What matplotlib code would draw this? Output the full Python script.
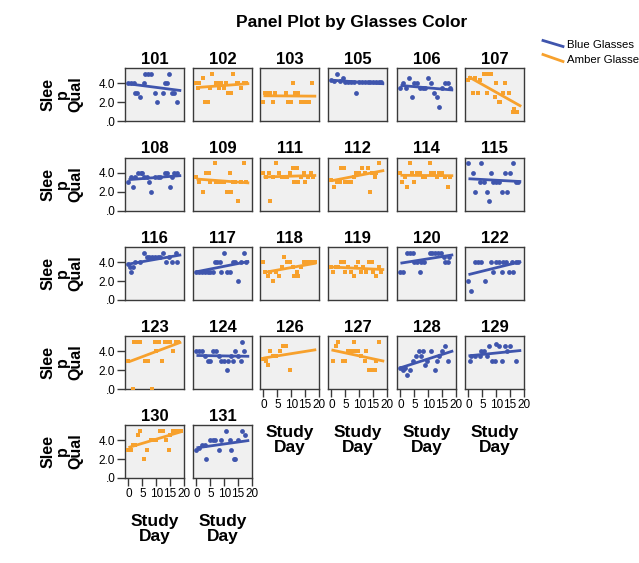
"""Panel plot of sleep quality by study day, one small panel per participant."""
import matplotlib
matplotlib.use("Agg")
import matplotlib.pyplot as plt
from matplotlib.lines import Line2D
import numpy as np

plt.rcParams["font.family"] = ["Liberation Sans", "DejaVu Sans"]

BLUE = "#3f55ad"
AMBER = "#f7a12d"
PANEL_BG = "#f0f0f0"
EDGE = "#3a3a3a"

# participant ids in panel order, and which glasses each wore
ids = [101, 102, 103, 105, 106, 107,
       108, 109, 111, 112, 114, 115,
       116, 117, 118, 119, 120, 122,
       123, 124, 126, 127, 128, 129,
       130, 131]
glasses = ["Blue", "Amber", "Amber", "Blue", "Blue", "Amber",
           "Blue", "Amber", "Amber", "Amber", "Amber", "Blue",
           "Blue", "Blue", "Amber", "Amber", "Blue", "Blue",
           "Amber", "Blue", "Amber", "Amber", "Blue", "Blue",
           "Amber", "Blue"]

# study day / sleep quality per participant
day_101 = [0, 1, 2, 2.5, 3, 4.2, 5.5, 6, 7, 8, 9.5, 10.3, 12.5, 13, 14, 14.5, 15.8, 16.5, 17.5]
qual_101 = [4, 4, 4, 3, 3, 2.5, 4, 5, 5, 5, 3, 2, 3, 4, 4, 5, 3, 3, 2]
day_102 = [0, 1, 0.5, 2.5, 3, 4, 5, 5.5, 7, 8, 8.5, 9, 10, 10.5, 11.5, 12.5, 13, 14.5, 15, 16, 17, 18]
qual_102 = [4, 4, 3.5, 4.5, 2, 2, 3.5, 5, 4, 3.5, 4, 4, 3.5, 4, 3, 3, 5, 4, 4, 3.5, 4, 4]
day_103 = [0, 0.5, 1.5, 2.5, 3.5, 4, 8, 9, 10, 10.5, 11.5, 12.5, 13.5, 14.5, 15.5, 16.5, 17.5]
qual_103 = [2, 3, 3, 3, 2, 3, 3, 2, 2, 4, 3, 3, 2, 2, 2, 2, 4]
day_105 = [0, 1, 2, 3, 4, 5, 6, 7, 8, 9, 10, 11, 12, 13, 14, 15, 16, 17, 18]
qual_105 = [4.3, 4.2, 5, 4.2, 4.5, 4.1, 4.1, 4.1, 4.1, 3, 4.1, 4.1, 4.1, 4.1, 4.1, 4.1, 4.1, 4.1, 4.1]
day_106 = [0, 1, 2, 3, 4, 5, 6, 7, 8, 9, 10, 11, 12, 13, 14, 15, 16, 17, 18]
qual_106 = [3.5, 4, 3.5, 4.5, 2.5, 4, 4, 3.5, 3.5, 3.5, 4.5, 4, 3, 2.5, 1.5, 3.5, 4, 4, 3.5]
day_107 = [0, 0.5, 1.5, 2.5, 3.5, 4, 5.5, 6.5, 7, 8, 9.5, 10, 11, 11.5, 12.5, 13, 14.5, 16, 16.5, 17.5]
qual_107 = [4.3, 4.5, 3, 4.5, 3, 4.3, 5, 3, 5, 5, 2.5, 4, 2, 2, 3, 4, 3, 1, 1.3, 1]
day_108 = [0, 1, 1.5, 2.5, 3.5, 4.5, 5, 5.5, 6.5, 7.5, 8, 9.5, 10.5, 11.5, 13, 14, 15, 15.5, 16.5, 17.5]
qual_108 = [3, 3.5, 2.5, 3.5, 4, 4, 4, 3.5, 3.5, 3, 2, 3.5, 3.5, 3.5, 4, 4, 2.5, 3.5, 4, 4]
day_109 = [0, 1, 2.5, 3.5, 4.5, 5, 6.5, 7, 8, 9, 10, 11, 12, 12.5, 13, 14, 15, 16, 17, 18]
qual_109 = [3.5, 3, 2, 4, 4, 3, 5, 3, 3, 3, 3, 2, 4, 2, 3, 3, 1, 3, 5, 3]
day_111 = [0, 1, 2, 2.5, 3.5, 4.5, 5.5, 6.5, 7.5, 8.5, 9.5, 10.5, 11, 12, 12.5, 13.5, 14.5, 15, 16, 17, 18]
qual_111 = [4, 3.5, 4, 1, 3.5, 5, 4, 3.5, 3.5, 3.5, 4, 4.5, 3, 4.5, 3, 3.5, 4, 3, 3.5, 4, 3.5]
day_112 = [0, 1, 2, 3, 3.5, 4.5, 5, 6, 7, 8, 9, 10, 11, 12, 13, 14, 14.5, 15.5, 16, 17]
qual_112 = [3.2, 2.5, 3, 3, 4.5, 4.5, 3, 3, 3, 3.5, 4, 4, 4.5, 4, 4.5, 2, 4, 3.5, 4, 5]
day_114 = [0, 0.5, 1.5, 2.5, 3.5, 4, 5, 6, 7, 8, 9, 10.5, 11, 12, 13, 14, 15, 16, 17, 18]
qual_114 = [4, 3, 3.5, 2.5, 5, 4, 3, 4, 4, 3.5, 3.5, 5, 4, 4, 3.5, 4, 4, 3.5, 2.5, 3.5]
day_115 = [0, 1.5, 2.5, 4, 4.5, 5.5, 6.5, 7.5, 8, 9, 10, 11, 12, 13, 14, 15, 16, 17, 18]
qual_115 = [5, 4, 2, 3, 5, 3, 2, 1, 4, 3, 3, 3, 2, 4, 2, 4, 5, 3, 3]
day_116 = [0, 0.5, 1, 1.5, 2.5, 4, 5.5, 6.5, 7.5, 8.5, 9.5, 10.5, 11.5, 12.5, 13.5, 14.5, 15.5, 17, 17.5]
qual_116 = [3.8, 3.5, 3, 3.5, 4, 4, 5, 4.5, 4.5, 4.5, 4.5, 4.5, 4.5, 5, 4, 4.5, 4, 5, 4]
day_117 = [0, 1, 2, 3, 4, 5, 6, 6.5, 7.5, 8.5, 9, 10, 11, 12, 13, 14, 15, 16, 17, 18]
qual_117 = [3, 3, 3, 3, 3, 3, 3, 4, 4, 4, 3, 5, 3, 3, 4, 4, 2, 4, 5, 4]
day_118 = [0, 0.5, 1.5, 2.5, 3.5, 4.5, 5.5, 6.5, 7.5, 8.5, 9.5, 10.5, 11, 12, 12.5, 13.5, 14.5, 15.5, 16.5, 17.5, 18.5]
qual_118 = [4, 3, 2.5, 3, 2, 3, 2.5, 3.5, 4.5, 4, 4, 3.5, 2.5, 3, 2.5, 3.5, 4, 4, 4, 4, 4]
day_119 = [0, 0.5, 1.5, 2.5, 3.5, 4.5, 5, 6, 7, 8, 9, 9.5, 10.5, 11.5, 12.5, 13.5, 14.5, 15, 16, 17, 18]
qual_119 = [3.5, 3, 3.5, 3.5, 4, 4, 3, 3.5, 3, 2.5, 3.5, 4, 3, 3.5, 3, 4, 4, 3, 2.5, 3.5, 3]
day_120 = [0, 1, 2.5, 3.5, 4.5, 5, 6, 7, 7.5, 8.5, 10.5, 11.5, 12.5, 13.5, 14.5, 15.5, 16, 17, 17.5]
qual_120 = [3, 3, 5, 5, 5, 4, 4, 3, 4, 4, 5, 5, 5, 5, 5, 4.5, 4, 4, 4.5]
day_122 = [0, 1, 2.5, 3.5, 4.5, 6, 8, 9, 10, 11, 12, 12.5, 13.5, 14.5, 15.5, 16, 17, 18]
qual_122 = [2, 1, 4, 4, 4, 2, 4, 3, 4, 4, 3, 4, 4, 3, 4, 3, 4, 4]
day_123 = [0, 1.5, 2, 3, 4, 6, 7, 8.5, 9.5, 10, 11, 12, 13, 14, 15, 16, 17, 18]
qual_123 = [3, 0, 5, 5, 5, 3, 3, 0, 5, 4, 5, 3, 5, 5, 5, 4, 5, 5]
day_124 = [0, 1, 2, 3, 4, 5, 6, 7, 8, 9, 10, 11, 11.5, 12.5, 13, 14, 15, 16, 16.5, 17]
qual_124 = [4, 4, 4, 3.5, 3, 3, 4, 4, 3.5, 3, 3, 2, 3, 3.5, 3, 4, 3.5, 3, 5, 4]
day_126 = [0, 1, 1.5, 2.5, 3.5, 4.5, 6, 7, 8, 9.5]
qual_126 = [3.2, 3, 2.5, 4, 3.5, 3.5, 4, 4.5, 4.5, 2]
day_127 = [0.5, 1.5, 2.5, 4, 5, 6, 7, 8, 8.5, 9.5, 10.5, 12, 12.5, 13.5, 14.5, 15.5, 16, 17]
qual_127 = [3, 4.5, 5, 3, 3, 4, 4, 5, 4, 4, 3.5, 3, 4, 2, 2, 2, 3, 5]
day_128 = [0, 1, 1.5, 2.5, 3.5, 4.5, 5.5, 6.5, 7.5, 8, 9, 9.5, 11, 12.5, 13, 14, 15, 16, 17]
qual_128 = [2.2, 2, 2.2, 1.5, 2, 3, 3.5, 4, 3.5, 4, 2.5, 3, 4, 2, 3, 3.5, 4, 4.5, 3]
day_129 = [0.5, 1, 2.5, 4, 4.5, 5.5, 6.5, 7.5, 8.5, 9.5, 10, 11, 12, 13, 14, 15, 17]
qual_129 = [3, 3.5, 3.5, 3.5, 4, 4, 3.5, 4.5, 3, 3, 4.8, 4.5, 3, 4.5, 4, 4.5, 3]
day_130 = [0, 1, 1.5, 2.5, 3.5, 4, 5.5, 6.5, 8, 9, 10, 11.5, 12.5, 13.5, 14.5, 15, 16, 17, 18, 19]
qual_130 = [3, 3, 3.5, 3.5, 4.5, 5, 2, 3, 4, 4, 4, 5, 5, 4, 3, 4.5, 5, 5, 5, 5]
day_131 = [0, 1, 2, 3, 3.5, 5, 6, 6.5, 8, 9, 10.5, 12, 12.5, 13.5, 14, 15, 16.5, 17.5]
qual_131 = [3, 3.2, 3.5, 3.5, 2, 4, 4, 4, 3, 4, 5, 4, 3, 2, 2, 4, 5, 4.5]

days = {101: day_101, 102: day_102, 103: day_103, 105: day_105, 106: day_106,
        107: day_107, 108: day_108, 109: day_109, 111: day_111, 112: day_112,
        114: day_114, 115: day_115, 116: day_116, 117: day_117, 118: day_118,
        119: day_119, 120: day_120, 122: day_122, 123: day_123, 124: day_124,
        126: day_126, 127: day_127, 128: day_128, 129: day_129, 130: day_130,
        131: day_131}
quals = {101: qual_101, 102: qual_102, 103: qual_103, 105: qual_105, 106: qual_106,
         107: qual_107, 108: qual_108, 109: qual_109, 111: qual_111, 112: qual_112,
         114: qual_114, 115: qual_115, 116: qual_116, 117: qual_117, 118: qual_118,
         119: qual_119, 120: qual_120, 122: qual_122, 123: qual_123, 124: qual_124,
         126: qual_126, 127: qual_127, 128: qual_128, 129: qual_129, 130: qual_130,
         131: qual_131}

y_ticks = [0, 2, 4]
y_ticklabels = [".0", "2.0", "4.0"]
x_ticks = [0, 5, 10, 15, 20]

W, H = 639, 563
fig = plt.figure(figsize=(W / 100, H / 100), dpi=100)

col_left = [125, 193, 260, 328, 397, 465]
row_top = [68, 157.5, 247, 336, 425]
pw, ph = 59, 53
ncol = 6

# the fit lines run across the whole day range
x_lo = min(min(d) for d in days.values())
x_hi = max(max(d) for d in days.values())

n = len(ids)
for i, pid in enumerate(ids):
    r, c = divmod(i, ncol)
    left, top = col_left[c], row_top[r]
    ax = fig.add_axes([left / W, 1 - (top + ph) / H, pw / W, ph / H])
    ax.set_facecolor(PANEL_BG)
    for s in ax.spines.values():
        s.set_color(EDGE)
        s.set_linewidth(1.0)

    color = BLUE if glasses[i] == "Blue" else AMBER
    marker = "o" if glasses[i] == "Blue" else "s"
    x = np.array(days[pid])
    y = np.array(quals[pid])
    ax.scatter(x, y, s=12, marker=marker, color=color, linewidths=0, zorder=3)
    slope, icpt = np.polyfit(x, y, 1)
    xs = np.array([x_lo, x_hi])
    ax.plot(xs, icpt + slope * xs, color=color, lw=2, solid_capstyle="butt", zorder=2)

    ax.set_xlim(-1.25, 20)
    ax.set_ylim(0, 5.6)
    ax.set_title(str(pid), fontsize=12, fontweight="bold", pad=3)

    # y axis only on the first column
    if c == 0:
        ax.set_yticks(y_ticks)
        ax.set_yticklabels(y_ticklabels)
        ax.tick_params(axis="y", length=6, width=1, color=EDGE, pad=1, labelsize=8.5)
        ax.text((62 - left) / pw, 0.5, "Slee\np\nQual", transform=ax.transAxes,
                rotation=90, ha="center", va="center", fontsize=11.5,
                fontweight="bold", linespacing=0.9)
    else:
        ax.set_yticks([])

    # x axis only on the lowest panel of each column
    bottom = (i + ncol >= n)
    if bottom:
        ax.set_xticks(x_ticks)
        ax.set_xticklabels([str(t) for t in x_ticks])
        ax.tick_params(axis="x", length=6, width=1, color=EDGE, pad=1, labelsize=8.5)
        fig.text((left + pw / 2) / W, 1 - (top + ph + 51) / H, "Study\nDay",
                 ha="center", va="center", fontsize=12.5, fontweight="bold",
                 linespacing=1.0)
    else:
        ax.set_xticks([])

fig.text(352 / W, 1 - 23 / H, "Panel Plot by Glasses Color",
         ha="center", va="center", fontsize=12.5, fontweight="bold")

# legend with slanted line keys, as drawn in the original
for (y0, y1, ty), color, label in [((40.5, 46.5, 45), BLUE, "Blue Glasses"),
                                  ((54.5, 61.5, 60), AMBER, "Amber Glasses")]:
    fig.add_artist(Line2D([543 / W, 563 / W], [1 - y0 / H, 1 - y1 / H],
                          color=color, lw=2, transform=fig.transFigure))
    fig.text(567 / W, 1 - ty / H, label, ha="left", va="center", fontsize=8.2)

fig.savefig("out.png", dpi=100)
plt.close(fig)
